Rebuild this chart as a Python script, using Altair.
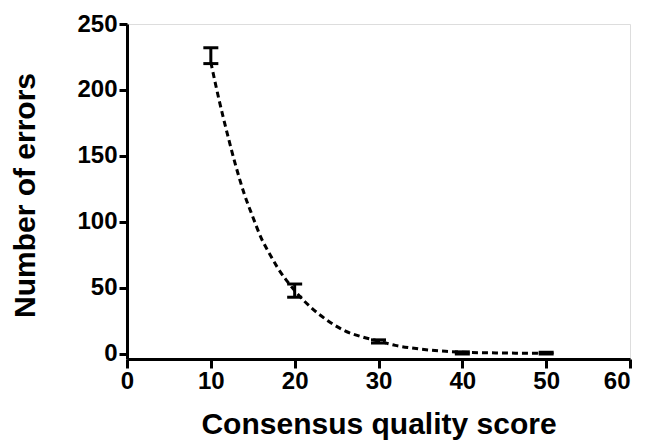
import altair as alt
import pandas as pd

# Error-bar data
err_x = [10, 20, 30, 40, 50]
err_mean = [226, 48, 9.5, 0.8, 0.6]
err_lo = [220, 43, 8.3, 0.0, 0.0]
err_hi = [232, 53, 10.7, 1.6, 1.3]

# Dashed fitted curve
curve_x = [10, 11, 12, 13, 14, 15, 16, 17, 18, 19, 20, 22, 24, 26, 28, 30, 32, 34, 36, 38, 40, 44, 50]
curve_y = [221, 192, 166, 142, 121, 104, 88, 76, 65, 56, 48, 35, 25, 17.5, 13, 9.8, 6.5, 4.5, 3, 2, 1.3, 0.8, 0.5]

x_ticks = [0, 10, 20, 30, 40, 50, 60]
y_ticks = [0, 50, 100, 150, 200, 250]

err_df = pd.DataFrame({"x": err_x, "mean": err_mean, "lo": err_lo, "hi": err_hi})
curve_df = pd.DataFrame({"x": curve_x, "y": curve_y})

FONT = "Liberation Sans"

xscale = alt.Scale(domain=[0, 60], nice=False, zero=False)
yscale = alt.Scale(domain=[-3.8, 250], nice=False, zero=False)

x_axis = alt.Axis(
    title="Consensus quality score",
    values=x_ticks,
    grid=False,
    domainWidth=3,
    domainColor="black",
    tickWidth=3,
    tickColor="black",
    tickSize=9,
    labelFont=FONT,
    labelFontSize=24,
    labelFontWeight="bold",
    labelColor="black",
    labelPadding=1,
    labelAlign={"condition": {"test": "datum.value >= 60", "value": "right"}, "value": "center"},
    titleFont=FONT,
    titleFontSize=30,
    titleFontWeight="bold",
    titleColor="black",
    titleY=74,
    titleBaseline="alphabetic",
    labelFlush=False,
)

y_axis = alt.Axis(
    title="Number of errors",
    values=y_ticks,
    grid=False,
    domainWidth=3,
    domainColor="black",
    tickWidth=3,
    tickColor="black",
    tickSize=8,
    labelFont=FONT,
    labelFontSize=24,
    labelFontWeight="bold",
    labelColor="black",
    labelPadding=2,
    titleFont=FONT,
    titleFontSize=30,
    titleFontWeight="bold",
    titleColor="black",
    titleX=-87,
    titleY=171,
    labelFlush=False,
)

curve = alt.Chart(curve_df).mark_line(
    color="black", strokeWidth=3, strokeDash=[6, 4], interpolate="monotone"
).encode(
    x=alt.X("x:Q", scale=xscale, axis=x_axis),
    y=alt.Y("y:Q", scale=yscale, axis=y_axis),
)

bars = alt.Chart(err_df).mark_rule(color="black", strokeWidth=3, opacity=1).encode(
    x=alt.X("x:Q", scale=xscale),
    y=alt.Y("lo:Q", scale=yscale),
    y2="hi:Q",
)

cap_hi = alt.Chart(err_df).mark_tick(
    color="black", thickness=3, size=15, orient="horizontal", opacity=1
).encode(
    x=alt.X("x:Q", scale=xscale),
    y=alt.Y("hi:Q", scale=yscale),
)

cap_lo = alt.Chart(err_df).mark_tick(
    color="black", thickness=3, size=15, orient="horizontal", opacity=1
).encode(
    x=alt.X("x:Q", scale=xscale),
    y=alt.Y("lo:Q", scale=yscale),
)

chart = alt.layer(curve, bars, cap_hi, cap_lo).properties(
    width=503,
    height=335,
    autosize=alt.AutoSizeParams(type="none"),
    padding={"left": 119, "top": 16, "right": 7, "bottom": 81},
).configure_view(stroke=None).configure(background="white")

chart.save("out.html", embed_options={"renderer": "svg", "actions": False})
